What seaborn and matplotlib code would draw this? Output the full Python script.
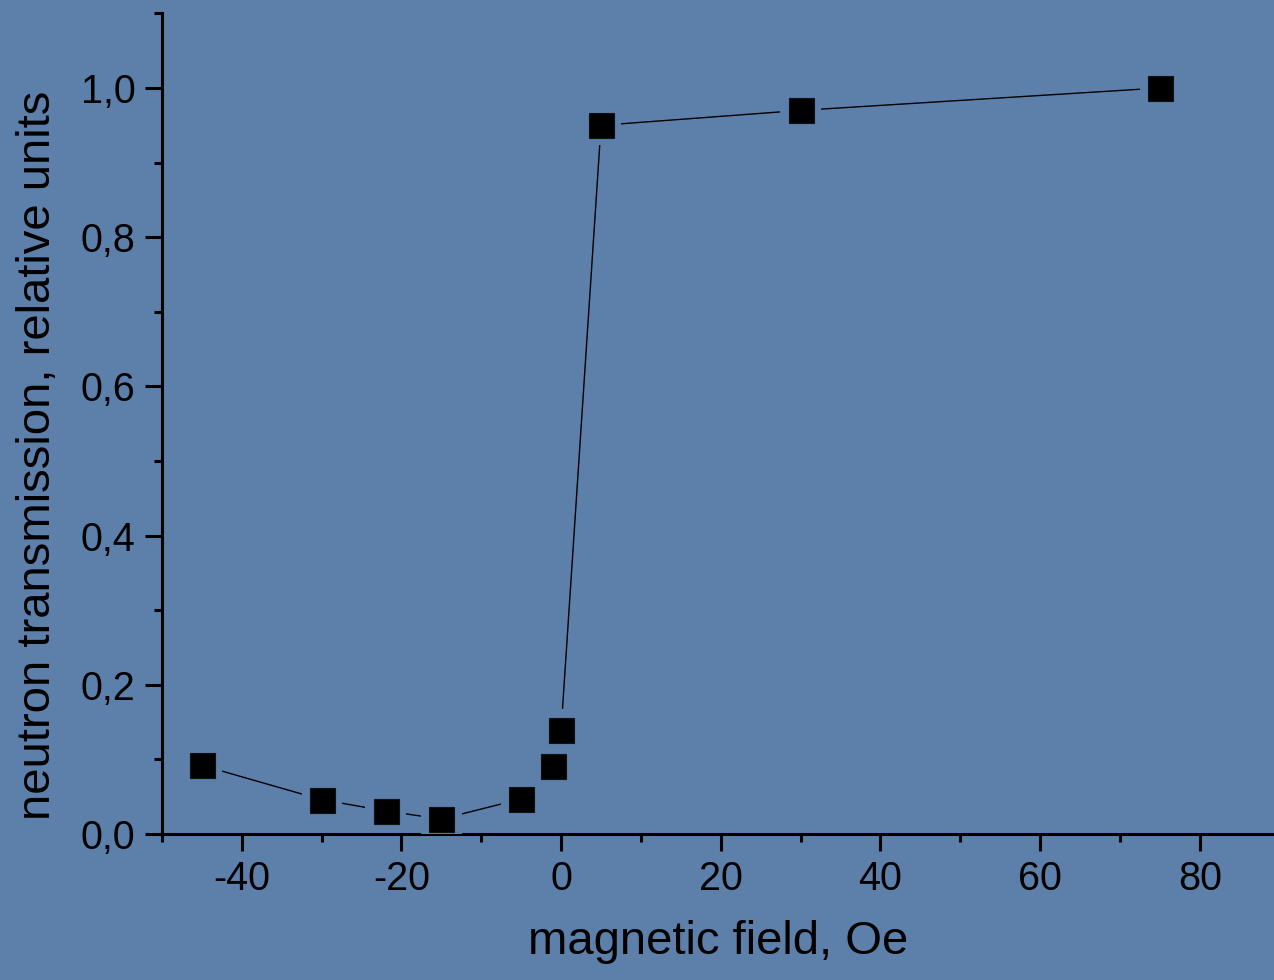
import matplotlib
matplotlib.use("Agg")
import matplotlib.pyplot as plt
from matplotlib.ticker import MultipleLocator, FuncFormatter
import seaborn as sns
import pandas as pd

# Neutron transmission versus applied magnetic field
field_oe = [-45, -30, -22, -15, -5, -1, 0, 5, 30, 75]
transmission = [0.092, 0.046, 0.031, 0.020, 0.047, 0.091, 0.140, 0.950, 0.970, 1.000]

x_label = "magnetic field, Oe"
y_label = "neutron transmission, relative units"

bg = "#5c80aa"

sns.set_style("ticks")
plt.rcParams["font.family"] = ["Liberation Sans", "DejaVu Sans"]

df = pd.DataFrame({"field": field_oe, "trans": transmission})

fig = plt.figure(figsize=(12.74, 9.80), dpi=100, facecolor=bg)
ax = fig.add_axes([162 / 1274, 146 / 980, 1 - 162 / 1274, (834 - 13.4) / 980])
ax.set_facecolor(bg)

sns.lineplot(data=df, x="field", y="trans", ax=ax, color="black", lw=1.0,
             sort=False, zorder=2)
# background-coloured pads leave a small gap between line and symbol
sns.scatterplot(data=df, x="field", y="trans", ax=ax, marker="s", s=29 ** 2,
                color=bg, edgecolor="none", zorder=3)
sns.scatterplot(data=df, x="field", y="trans", ax=ax, marker="s", s=18 ** 2,
                color="black", edgecolor="#111111", linewidth=0.8, zorder=4)

ax.set_xlim(-50, 89.3)
ax.set_ylim(0, 1.1)

ax.xaxis.set_major_locator(MultipleLocator(20))
ax.xaxis.set_minor_locator(MultipleLocator(10))
ax.yaxis.set_major_locator(MultipleLocator(0.2))
ax.yaxis.set_minor_locator(MultipleLocator(0.1))
ax.yaxis.set_major_formatter(FuncFormatter(lambda v, p: f"{v:.1f}".replace(".", ",")))
ax.xaxis.set_major_formatter(FuncFormatter(lambda v, p: f"{v:.0f}"))

for side in ("top", "right"):
    ax.spines[side].set_visible(False)
for side in ("left", "bottom"):
    ax.spines[side].set_linewidth(2.2)
    ax.spines[side].set_color("black")

ax.tick_params(which="major", direction="out", length=12, width=2.2,
               color="black", labelsize=28.5, labelcolor="black", pad=7)
ax.tick_params(which="minor", direction="out", length=6, width=2.2, color="black")

ax.set_xlabel(x_label, fontsize=34, color="black")
ax.set_ylabel(y_label, fontsize=34, color="black")
ax.xaxis.set_label_coords(0.5, -0.1047)
ax.yaxis.set_label_coords(-0.0917, 0.4616)

fig.savefig("out.png", dpi=100, facecolor=bg)
